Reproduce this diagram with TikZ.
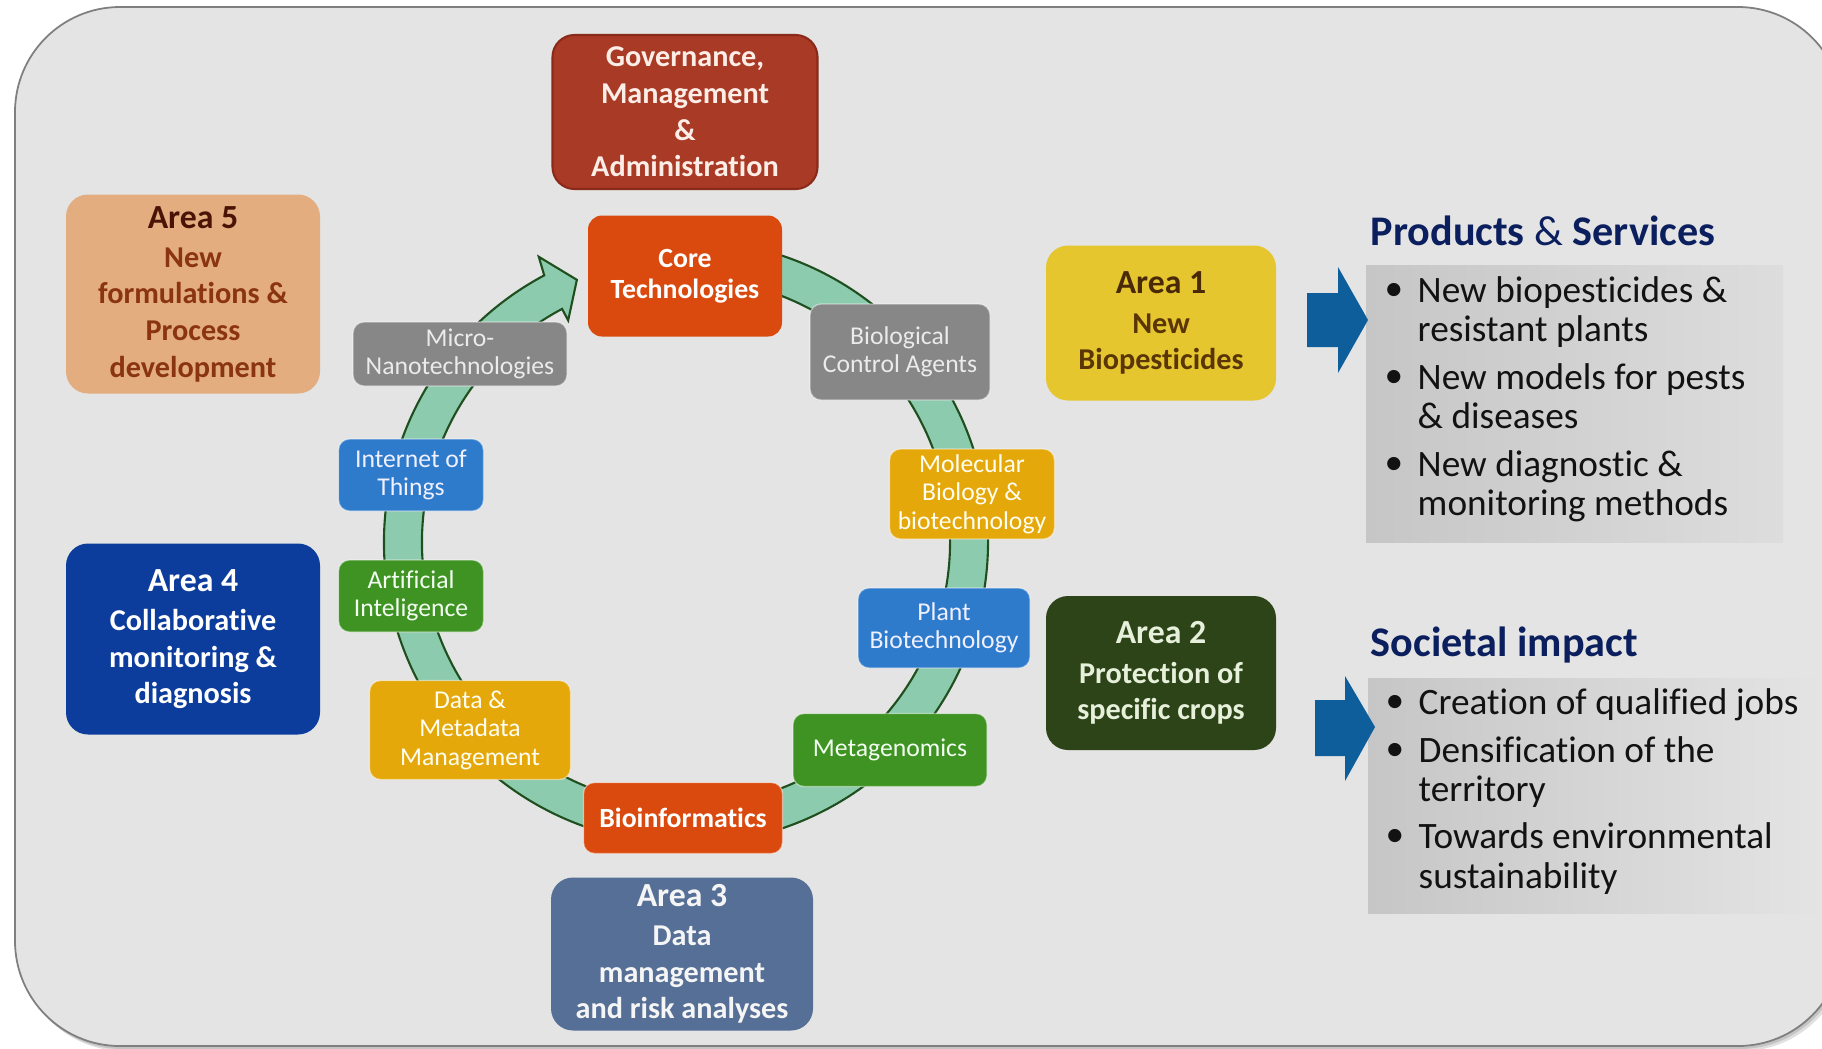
\documentclass[tikz,border=0pt]{standalone}
\usepackage{fontspec}
\setmainfont{Carlito}[Ligatures=NoCommon]
\usetikzlibrary{calc}
\definecolor{bgfill}{HTML}{E4E4E4}
\definecolor{bgline}{HTML}{7F7F7F}
\definecolor{govfill}{HTML}{A83A26}
\definecolor{govline}{HTML}{8A2A18}
\definecolor{govtext}{HTML}{FCEDE6}
\definecolor{corefill}{HTML}{DA4A0F}
\definecolor{a5fill}{HTML}{E3AD7F}
\definecolor{a5title}{HTML}{4A1306}
\definecolor{a5text}{HTML}{8A3410}
\definecolor{a4fill}{HTML}{0C3D9C}
\definecolor{a3fill}{HTML}{566F96}
\definecolor{a1fill}{HTML}{E6C62F}
\definecolor{a1title}{HTML}{4A2A06}
\definecolor{a1text}{HTML}{5A3606}
\definecolor{a2fill}{HTML}{2C4418}
\definecolor{a2text}{HTML}{E6F0DA}
\definecolor{grayitem}{HTML}{878787}
\definecolor{golditem}{HTML}{E5A80B}
\definecolor{blueitem}{HTML}{2F7BCB}
\definecolor{greenitem}{HTML}{3F9322}
\definecolor{bandfill}{HTML}{8DCBAE}
\definecolor{bandline}{HTML}{1F4F1F}
\definecolor{arrowblue}{HTML}{0D5E9B}
\definecolor{headnavy}{HTML}{0B1F5E}
\definecolor{panelL}{HTML}{C6C6C6}
\definecolor{panelR}{HTML}{DDDDDD}
\begin{document}
\begin{tikzpicture}[x=0.01cm,y=0.01cm,
  wh/.style 2 args={minimum width=#1*0.01cm, minimum height=#2*0.01cm},
  areabox/.style={rounded corners=0.22cm, align=center, inner sep=0pt, font=\bfseries\fontsize{8.6}{10.4}\selectfont},
  ringitem/.style={rounded corners=0.11cm, align=center, inner sep=0pt, font=\fontsize{7.3}{8.1}\selectfont, draw=white, draw opacity=0.45, line width=0.4pt},
  bul/.style={anchor=base west, inner sep=0pt, font=\fontsize{10.6}{12}\selectfont, text=black!93},
  head/.style={anchor=base west, inner sep=0pt, font=\bfseries\fontsize{12}{14}\selectfont, text=headnavy},
]
\useasboundingbox (0,0) rectangle (1822,-1048);
\clip (0,0) rectangle (1822,-1048);
\fill[white] (0,0) rectangle (1822,-1048);
% background panel with shadow
\fill[black, opacity=0.12, rounded corners=1.05cm] (19,-12) rectangle (1847,-1051);
\fill[black, opacity=0.12, rounded corners=1.05cm] (17,-10) rectangle (1845,-1049);
\draw[fill=bgfill, draw=bgline, line width=0.5pt, rounded corners=1.05cm] (15,-7) rectangle (1843,-1046);

% circular band arrow
\coordinate (ringc) at (686,-542);
\draw[fill=bandfill, draw=bandline, line width=0.6pt, line join=miter]
  ($(ringc)+(80:302)$) arc[start angle=80, end angle=-242, radius=302]
  -- ($(ringc)+(-242.7:321)$) -- ($(ringc)+(-247.4:284)$) -- ($(ringc)+(-242:251)$) -- ($(ringc)+(-242:264)$)
  arc[start angle=-242, end angle=80, radius=264] -- cycle;

% top boxes
\node[areabox, wh={265}{154}, fill=govfill, draw=govline, line width=0.6pt, text=govtext] (gov) at (685,-112)
  {Governance,\\Management\\\&\\Administration};
\node[areabox, wh={194}{121}, fill=corefill, text=white, rounded corners=0.14cm, font=\bfseries\fontsize{7.9}{8.7}\selectfont] (core) at (685,-276)
  {Core\\Technologies};

% area boxes
\node[areabox, wh={254}{199}, fill=a5fill, text=a5text] (area5) at (193,-294)
  {{\color{a5title}\fontsize{9.6}{10.4}\selectfont Area 5}\\[0.8pt]New\\formulations \&\\Process\\development};
\node[areabox, wh={254}{191}, fill=a4fill, text=white] (area4) at (193,-639)
  {{\fontsize{9.6}{10.4}\selectfont Area 4}\\[0.8pt]Collaborative\\monitoring \&\\diagnosis};
\node[areabox, wh={262}{153}, fill=a3fill, text=white!96!black] (area3) at (682,-954)
  {{\fontsize{9.6}{10.4}\selectfont Area 3}\\[0.8pt]Data\\management\\and risk analyses};
\node[areabox, wh={230}{155}, fill=a1fill, text=a1text] (area1) at (1161,-323)
  {{\color{a1title}\fontsize{9.6}{10.4}\selectfont Area 1}\\[0.8pt]New\\Biopesticides};
\node[areabox, wh={230}{154}, fill=a2fill, text=a2text] (area2) at (1161,-673)
  {{\fontsize{9.6}{10.4}\selectfont Area 2}\\[0.8pt]Protection of\\specific crops};

% ring items
\node[ringitem, wh={214}{64}, fill=grayitem, text=white!92!black] (micro) at (460,-354) {Micro-\\Nanotechnologies};
\node[ringitem, wh={180}{96}, fill=grayitem, text=white!92!black] (bca) at (900,-352) {Biological\\Control Agents};
\node[ringitem, wh={165}{90}, fill=golditem, text=white!95!yellow] (mol) at (972,-494) {Molecular\\Biology \&\\biotechnology};
\node[ringitem, wh={172}{80}, fill=blueitem, text=white!94!blue] (plant) at (944,-628) {Plant\\Biotechnology};
\node[ringitem, wh={194}{73}, fill=greenitem, text=white!95!green] (meta) at (890,-750) {Metagenomics};
\node[ringitem, wh={199}{71}, fill=corefill, text=white, font=\bfseries\fontsize{7.9}{8.7}\selectfont] (bioinf) at (683,-818) {Bioinformatics};
\node[ringitem, wh={201}{99}, fill=golditem, text=white!95!yellow] (data) at (470,-730) {Data \&\\Metadata\\Management};
\node[ringitem, wh={145}{72}, fill=greenitem, text=white!95!green] (ai) at (411,-596) {Artificial\\Inteligence};
\node[ringitem, wh={145}{72}, fill=blueitem, text=white!94!blue] (iot) at (411,-475) {Internet of\\Things};

% right panels
\shade[left color=panelL, right color=panelR] (1366,-265) rectangle (1783,-542);
\shade[left color=panelL, right color=bgfill] (1368,-678) rectangle (1822,-913);

\fill[arrowblue] (1307,-293) -- (1338,-293) -- (1338,-267) -- (1368,-320) -- (1338,-373) -- (1338,-347) -- (1307,-347) -- cycle;
\fill[arrowblue] (1315,-700) -- (1345,-700) -- (1345,-676) -- (1375,-727) -- (1345,-781) -- (1345,-756) -- (1315,-756) -- cycle;

\node[head] (prodhead) at (1370,-245) {Products {\mdseries\&} Services};
\node[head] (sochead) at (1370,-656) {Societal impact};

\node[bul] (pb1) at (1384,-300) {•};
\node[bul] (p1) at (1417,-302) {New biopesticides \&};
\node[bul] (p2) at (1417,-341) {resistant plants};
\node[bul] (pb2) at (1384,-387) {•};
\node[bul] (p3) at (1417,-389) {New models for pests};
\node[bul] (p4) at (1417,-428) {\& diseases};
\node[bul] (pb3) at (1384,-474) {•};
\node[bul] (p5) at (1417,-476) {New diagnostic \&};
\node[bul] (p6) at (1417,-515) {monitoring methods};

\node[bul] (sb1) at (1385,-712) {•};
\node[bul] (s1) at (1418,-714) {Creation of qualified jobs};
\node[bul] (sb2) at (1385,-760) {•};
\node[bul] (s2) at (1418,-762) {Densification of the};
\node[bul] (s3) at (1418,-801) {territory};
\node[bul] (sb3) at (1385,-846) {•};
\node[bul] (s4) at (1418,-848) {Towards environmental};
\node[bul] (s5) at (1418,-888) {sustainability};
\end{tikzpicture}
\end{document}
